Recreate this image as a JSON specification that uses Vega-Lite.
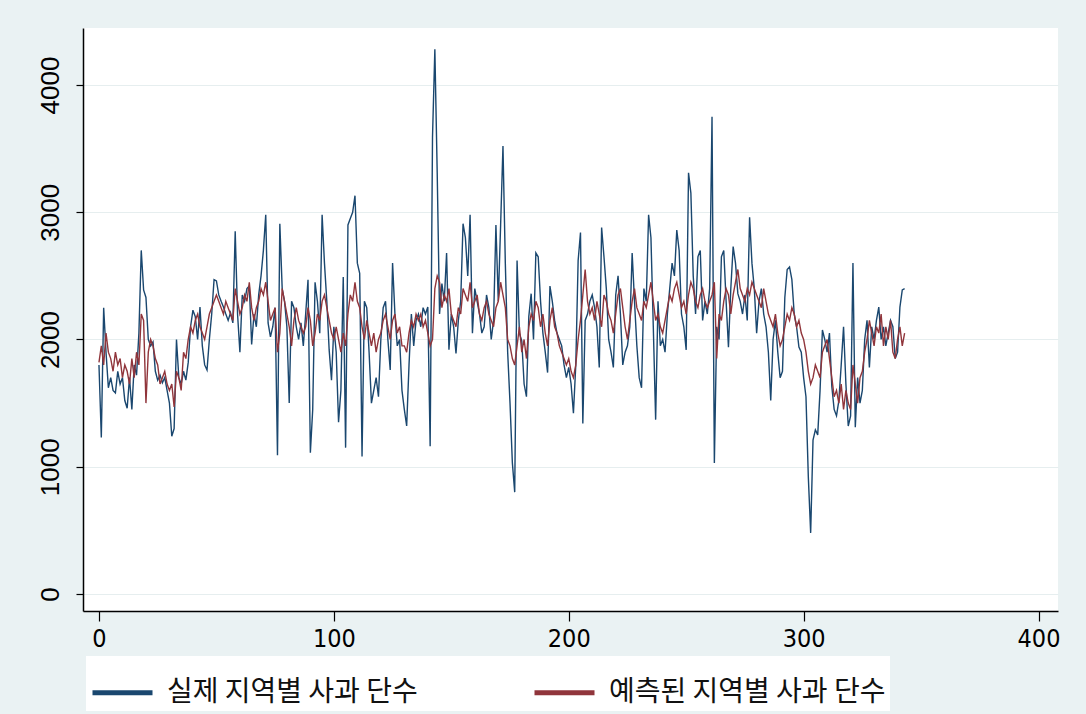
{
  "$schema": "https://vega.github.io/schema/vega-lite/v6.json",
  "width": 975,
  "height": 583,
  "autosize": {"type": "none"},
  "padding": {"left": 83, "top": 28, "right": 28, "bottom": 103},
  "background": "#eaf2f3",
  "view": {"fill": "white", "stroke": null},
  "datasets": {
    "s": [
      {"t":0,"a":1800,"p":1820},{"t":1,"a":1230,"p":1950},{"t":2,"a":2250,"p":1800},{"t":3,"a":1900,"p":2050},{"t":4,"a":1620,"p":1900},{"t":5,"a":1700,"p":1850},{"t":6,"a":1600,"p":1750},{"t":7,"a":1580,"p":1900},{"t":8,"a":1750,"p":1800},{"t":9,"a":1650,"p":1850},
      {"t":10,"a":1700,"p":1700},{"t":11,"a":1520,"p":1800},{"t":12,"a":1460,"p":1750},{"t":13,"a":1700,"p":1650},{"t":14,"a":1450,"p":1850},{"t":15,"a":1800,"p":1700},{"t":16,"a":1720,"p":1900},{"t":17,"a":2050,"p":1800},{"t":18,"a":2700,"p":2200},{"t":19,"a":2390,"p":2150},
      {"t":20,"a":2330,"p":1500},{"t":21,"a":2000,"p":1900},{"t":22,"a":1950,"p":2000},{"t":23,"a":1980,"p":1950},{"t":24,"a":1750,"p":1850},{"t":25,"a":1680,"p":1800},{"t":26,"a":1720,"p":1650},{"t":27,"a":1660,"p":1700},{"t":28,"a":1700,"p":1750},{"t":29,"a":1600,"p":1650},
      {"t":30,"a":1500,"p":1600},{"t":31,"a":1240,"p":1650},{"t":32,"a":1300,"p":1470},{"t":33,"a":2000,"p":1750},{"t":34,"a":1700,"p":1700},{"t":35,"a":1650,"p":1600},{"t":36,"a":1750,"p":1900},{"t":37,"a":1680,"p":1850},{"t":38,"a":1820,"p":2000},{"t":39,"a":2100,"p":2100},
      {"t":40,"a":2230,"p":2050},{"t":41,"a":2180,"p":2150},{"t":42,"a":2000,"p":2200},{"t":43,"a":2255,"p":2100},{"t":44,"a":1950,"p":2050},{"t":45,"a":1800,"p":2000},{"t":46,"a":1760,"p":2100},{"t":47,"a":2000,"p":2200},{"t":48,"a":2200,"p":2250},{"t":49,"a":2470,"p":2300},
      {"t":50,"a":2460,"p":2350},{"t":51,"a":2350,"p":2300},{"t":52,"a":2300,"p":2250},{"t":53,"a":2255,"p":2200},{"t":54,"a":2200,"p":2300},{"t":55,"a":2150,"p":2250},{"t":56,"a":2210,"p":2200},{"t":57,"a":2130,"p":2150},{"t":58,"a":2850,"p":2400},{"t":59,"a":2200,"p":2300},
      {"t":60,"a":1900,"p":2200},{"t":61,"a":2350,"p":2250},{"t":62,"a":2300,"p":2350},{"t":63,"a":2400,"p":2300},{"t":64,"a":2420,"p":2450},{"t":65,"a":1960,"p":2250},{"t":66,"a":2200,"p":2150},{"t":67,"a":2100,"p":2250},{"t":68,"a":2350,"p":2300},{"t":69,"a":2500,"p":2400},
      {"t":70,"a":2700,"p":2350},{"t":71,"a":2980,"p":2450},{"t":72,"a":2130,"p":2300},{"t":73,"a":2020,"p":2150},{"t":74,"a":2100,"p":2200},{"t":75,"a":2250,"p":2250},{"t":76,"a":1090,"p":1900},{"t":77,"a":2910,"p":2050},{"t":78,"a":2400,"p":2400},{"t":79,"a":2300,"p":2300},
      {"t":80,"a":2100,"p":2200},{"t":81,"a":1500,"p":2100},{"t":82,"a":2300,"p":1950},{"t":83,"a":2250,"p":2150},{"t":84,"a":2100,"p":2250},{"t":85,"a":2000,"p":2150},{"t":86,"a":2130,"p":2100},{"t":87,"a":1950,"p":2050},{"t":88,"a":2200,"p":2100},{"t":89,"a":2470,"p":2250},
      {"t":90,"a":1110,"p":2150},{"t":91,"a":1450,"p":1950},{"t":92,"a":2450,"p":2050},{"t":93,"a":2300,"p":2200},{"t":94,"a":2050,"p":2150},{"t":95,"a":2980,"p":2300},{"t":96,"a":2600,"p":2350},{"t":97,"a":2300,"p":2250},{"t":98,"a":1918,"p":2150},{"t":99,"a":1680,"p":2050},
      {"t":100,"a":2100,"p":2000},{"t":101,"a":1900,"p":2100},{"t":102,"a":1350,"p":2000},{"t":103,"a":1600,"p":1900},{"t":104,"a":2490,"p":2050},{"t":105,"a":1150,"p":1950},{"t":106,"a":2900,"p":2200},{"t":107,"a":2950,"p":2350},{"t":108,"a":3000,"p":2300},{"t":109,"a":3130,"p":2450},
      {"t":110,"a":2600,"p":2300},{"t":111,"a":2520,"p":2250},{"t":112,"a":1080,"p":2100},{"t":113,"a":2300,"p":2000},{"t":114,"a":2250,"p":2150},{"t":115,"a":1900,"p":2050},{"t":116,"a":1500,"p":1950},{"t":117,"a":1600,"p":2050},{"t":118,"a":1700,"p":1900},{"t":119,"a":1550,"p":2000},
      {"t":120,"a":2000,"p":2050},{"t":121,"a":2250,"p":2150},{"t":122,"a":2300,"p":2200},{"t":123,"a":2000,"p":2100},{"t":124,"a":1760,"p":2000},{"t":125,"a":2600,"p":2150},{"t":126,"a":2200,"p":2200},{"t":127,"a":1950,"p":2050},{"t":128,"a":2000,"p":2100},{"t":129,"a":1600,"p":1950},
      {"t":130,"a":1450,"p":1950},{"t":131,"a":1320,"p":1900},{"t":132,"a":1800,"p":2050},{"t":133,"a":2200,"p":2150},{"t":134,"a":1950,"p":2100},{"t":135,"a":2150,"p":2200},{"t":136,"a":2200,"p":2150},{"t":137,"a":2100,"p":2200},{"t":138,"a":2250,"p":2100},{"t":139,"a":2200,"p":2150},
      {"t":140,"a":2255,"p":2050},{"t":141,"a":1160,"p":1950},{"t":142,"a":3590,"p":2000},{"t":143,"a":4280,"p":2400},{"t":144,"a":3310,"p":2500},{"t":145,"a":2200,"p":2450},{"t":146,"a":2440,"p":2250},{"t":147,"a":2300,"p":2350},{"t":148,"a":2680,"p":2300},{"t":149,"a":1920,"p":2400},
      {"t":150,"a":2200,"p":2200},{"t":151,"a":2100,"p":2150},{"t":152,"a":1890,"p":2100},{"t":153,"a":2150,"p":2250},{"t":154,"a":2300,"p":2200},{"t":155,"a":2910,"p":2400},{"t":156,"a":2800,"p":2350},{"t":157,"a":2500,"p":2300},{"t":158,"a":2980,"p":2450},{"t":159,"a":2050,"p":2250},
      {"t":160,"a":2400,"p":2300},{"t":161,"a":2300,"p":2350},{"t":162,"a":2200,"p":2200},{"t":163,"a":2050,"p":2150},{"t":164,"a":2100,"p":2250},{"t":165,"a":2350,"p":2300},{"t":166,"a":2250,"p":2200},{"t":167,"a":2000,"p":2150},{"t":168,"a":2150,"p":2100},{"t":169,"a":2900,"p":2250},
      {"t":170,"a":2300,"p":2300},{"t":171,"a":2900,"p":2450},{"t":172,"a":3520,"p":2350},{"t":173,"a":2600,"p":2250},{"t":174,"a":1900,"p":2000},{"t":175,"a":1500,"p":1950},{"t":176,"a":1030,"p":1850},{"t":177,"a":800,"p":1800},{"t":178,"a":2620,"p":1950},{"t":179,"a":2050,"p":2100},
      {"t":180,"a":1990,"p":1900},{"t":181,"a":1650,"p":2000},{"t":182,"a":1550,"p":1850},{"t":183,"a":2180,"p":2100},{"t":184,"a":2360,"p":2200},{"t":185,"a":2000,"p":2150},{"t":186,"a":2680,"p":2300},{"t":187,"a":2650,"p":2250},{"t":188,"a":2300,"p":2100},{"t":189,"a":2050,"p":2200},
      {"t":190,"a":1900,"p":2050},{"t":191,"a":1740,"p":1950},{"t":192,"a":2420,"p":2150},{"t":193,"a":2300,"p":2250},{"t":194,"a":2150,"p":2100},{"t":195,"a":2050,"p":2050},{"t":196,"a":2000,"p":1950},{"t":197,"a":1950,"p":1900},{"t":198,"a":1800,"p":1850},{"t":199,"a":1700,"p":1800},
      {"t":200,"a":1780,"p":1850},{"t":201,"a":1650,"p":1750},{"t":202,"a":1420,"p":1700},{"t":203,"a":1800,"p":1800},{"t":204,"a":2620,"p":2000},{"t":205,"a":2840,"p":2150},{"t":206,"a":1340,"p":2350},{"t":207,"a":2150,"p":2550},{"t":208,"a":2200,"p":2300},{"t":209,"a":2300,"p":2200},
      {"t":210,"a":2350,"p":2250},{"t":211,"a":2250,"p":2150},{"t":212,"a":2100,"p":2300},{"t":213,"a":1780,"p":2200},{"t":214,"a":2880,"p":2100},{"t":215,"a":2650,"p":2350},{"t":216,"a":2400,"p":2300},{"t":217,"a":2000,"p":2200},{"t":218,"a":1900,"p":2150},{"t":219,"a":1780,"p":2050},
      {"t":220,"a":2350,"p":2200},{"t":221,"a":2500,"p":2350},{"t":222,"a":2200,"p":2400},{"t":223,"a":1800,"p":2250},{"t":224,"a":1900,"p":2100},{"t":225,"a":1950,"p":2000},{"t":226,"a":2100,"p":2150},{"t":227,"a":2680,"p":2300},{"t":228,"a":2300,"p":2400},{"t":229,"a":1950,"p":2250},
      {"t":230,"a":1700,"p":2200},{"t":231,"a":1620,"p":2150},{"t":232,"a":2400,"p":2300},{"t":233,"a":2300,"p":2250},{"t":234,"a":2980,"p":2350},{"t":235,"a":2800,"p":2450},{"t":236,"a":2100,"p":2300},{"t":237,"a":1370,"p":2150},{"t":238,"a":2300,"p":2200},{"t":239,"a":1950,"p":2100},
      {"t":240,"a":2000,"p":2050},{"t":241,"a":1900,"p":2150},{"t":242,"a":2200,"p":2250},{"t":243,"a":2400,"p":2350},{"t":244,"a":2600,"p":2300},{"t":245,"a":2500,"p":2400},{"t":246,"a":2860,"p":2450},{"t":247,"a":2700,"p":2350},{"t":248,"a":2200,"p":2250},{"t":249,"a":2100,"p":2300},
      {"t":250,"a":1918,"p":2200},{"t":251,"a":3310,"p":2350},{"t":252,"a":3150,"p":2450},{"t":253,"a":2500,"p":2400},{"t":254,"a":2200,"p":2300},{"t":255,"a":2650,"p":2250},{"t":256,"a":2700,"p":2350},{"t":257,"a":2150,"p":2400},{"t":258,"a":2300,"p":2300},{"t":259,"a":2200,"p":2250},
      {"t":260,"a":2400,"p":2300},{"t":261,"a":3750,"p":2350},{"t":262,"a":1030,"p":2450},{"t":263,"a":2100,"p":1850},{"t":264,"a":2000,"p":2200},{"t":265,"a":2650,"p":2150},{"t":266,"a":2700,"p":2300},{"t":267,"a":2300,"p":2400},{"t":268,"a":1940,"p":2350},{"t":269,"a":2400,"p":2200},
      {"t":270,"a":2730,"p":2350},{"t":271,"a":2600,"p":2450},{"t":272,"a":2360,"p":2550},{"t":273,"a":2300,"p":2400},{"t":274,"a":2200,"p":2350},{"t":275,"a":2350,"p":2300},{"t":276,"a":2150,"p":2400},{"t":277,"a":2960,"p":2350},{"t":278,"a":2600,"p":2450},{"t":279,"a":2400,"p":2400},
      {"t":280,"a":2050,"p":2350},{"t":281,"a":2300,"p":2300},{"t":282,"a":2400,"p":2250},{"t":283,"a":2200,"p":2400},{"t":284,"a":2100,"p":2300},{"t":285,"a":1900,"p":2200},{"t":286,"a":1520,"p":2150},{"t":287,"a":2000,"p":2100},{"t":288,"a":2150,"p":2200},{"t":289,"a":1900,"p":2050},
      {"t":290,"a":1700,"p":1950},{"t":291,"a":1750,"p":2000},{"t":292,"a":2330,"p":2100},{"t":293,"a":2550,"p":2200},{"t":294,"a":2570,"p":2150},{"t":295,"a":2470,"p":2250},{"t":296,"a":2200,"p":2200},{"t":297,"a":2100,"p":2100},{"t":298,"a":1940,"p":2150},{"t":299,"a":1900,"p":2050},
      {"t":300,"a":1700,"p":2000},{"t":301,"a":1550,"p":1900},{"t":302,"a":920,"p":1750},{"t":303,"a":480,"p":1650},{"t":304,"a":1210,"p":1700},{"t":305,"a":1290,"p":1800},{"t":306,"a":1250,"p":1750},{"t":307,"a":1600,"p":1700},{"t":308,"a":2075,"p":1900},{"t":309,"a":2000,"p":1950},
      {"t":310,"a":1900,"p":2000},{"t":311,"a":2050,"p":1850},{"t":312,"a":1630,"p":1700},{"t":313,"a":1450,"p":1550},{"t":314,"a":1400,"p":1600},{"t":315,"a":1520,"p":1500},{"t":316,"a":1800,"p":1650},{"t":317,"a":2100,"p":1450},{"t":318,"a":1650,"p":1600},{"t":319,"a":1320,"p":1500},
      {"t":320,"a":1400,"p":1450},{"t":321,"a":2600,"p":1800},{"t":322,"a":1310,"p":1650},{"t":323,"a":1700,"p":1500},{"t":324,"a":1500,"p":1700},{"t":325,"a":1600,"p":1750},{"t":326,"a":2000,"p":1900},{"t":327,"a":2150,"p":2000},{"t":328,"a":1780,"p":2150},{"t":329,"a":2100,"p":2050},
      {"t":330,"a":2000,"p":1950},{"t":331,"a":2150,"p":2100},{"t":332,"a":2255,"p":2050},{"t":333,"a":2000,"p":2200},{"t":334,"a":2100,"p":1950},{"t":335,"a":1950,"p":2100},{"t":336,"a":2050,"p":2000},{"t":337,"a":2150,"p":2150},{"t":338,"a":2100,"p":1900},{"t":339,"a":1850,"p":1850},
      {"t":340,"a":1900,"p":2000},{"t":341,"a":2255,"p":2100},{"t":342,"a":2390,"p":1950},{"t":343,"a":2400,"p":2050}
    ]
  },
  "data": {"name": "s"},
  "encoding": {
    "x": {
      "field": "t",
      "type": "quantitative",
      "scale": {"domain": [-6.8, 408.3], "nice": false, "zero": false},
      "axis": {
        "title": null,
        "values": [0, 100, 200, 300, 400],
        "format": "d",
        "grid": false,
        "domainColor": "black",
        "domainWidth": 1.5,
        "tickColor": "black",
        "tickSize": 10,
        "tickWidth": 1.2,
        "labelFont": "DejaVu Sans Condensed, Liberation Sans Narrow, Liberation Sans, sans-serif",
        "labelFontSize": 25,
        "labelColor": "black",
        "labelPadding": 5
      }
    }
  },
  "layer": [
    {
      "mark": {"type": "line", "strokeWidth": 1.4},
      "encoding": {
        "y": {
          "field": "a",
          "type": "quantitative",
          "scale": {"domain": [-134, 4448], "nice": false, "zero": false},
          "axis": {
            "title": null,
            "values": [0, 1000, 2000, 3000, 4000],
            "format": "d",
            "grid": true,
            "gridColor": "#e6eeef",
            "gridWidth": 1.2,
            "domainColor": "black",
            "domainWidth": 1.5,
            "tickColor": "black",
            "tickSize": 7,
            "tickWidth": 1.2,
            "labelAngle": 270,
            "labelAlign": "center",
            "labelBaseline": "bottom",
            "labelFont": "Liberation Sans, DejaVu Sans, sans-serif",
            "labelFontSize": 26,
            "labelColor": "black",
            "labelPadding": 13
          }
        },
        "color": {"datum": "실제 지역별 사과 단수", "type": "nominal"}
      }
    },
    {
      "mark": {"type": "line", "strokeWidth": 1.4},
      "encoding": {
        "y": {"field": "p", "type": "quantitative"},
        "color": {"datum": "예측된 지역별 사과 단수", "type": "nominal"}
      }
    }
  ],
  "resolve": {"scale": {"y": "shared"}},
  "config": {
    "range": {"category": ["#1a476f", "#90353b"]},
    "legend": {
      "orient": "none",
      "legendX": 3,
      "legendY": 628,
      "direction": "horizontal",
      "title": null,
      "fillColor": "white",
      "padding": 4,
      "symbolType": "stroke",
      "symbolSize": 3600,
      "symbolStrokeWidth": 5,
      "labelFont": "Noto Sans CJK KR",
      "labelFontSize": 28,
      "labelColor": "#111111",
      "labelOffset": 12,
      "columnPadding": 106,
      "labelLimit": 400
    }
  }
}
